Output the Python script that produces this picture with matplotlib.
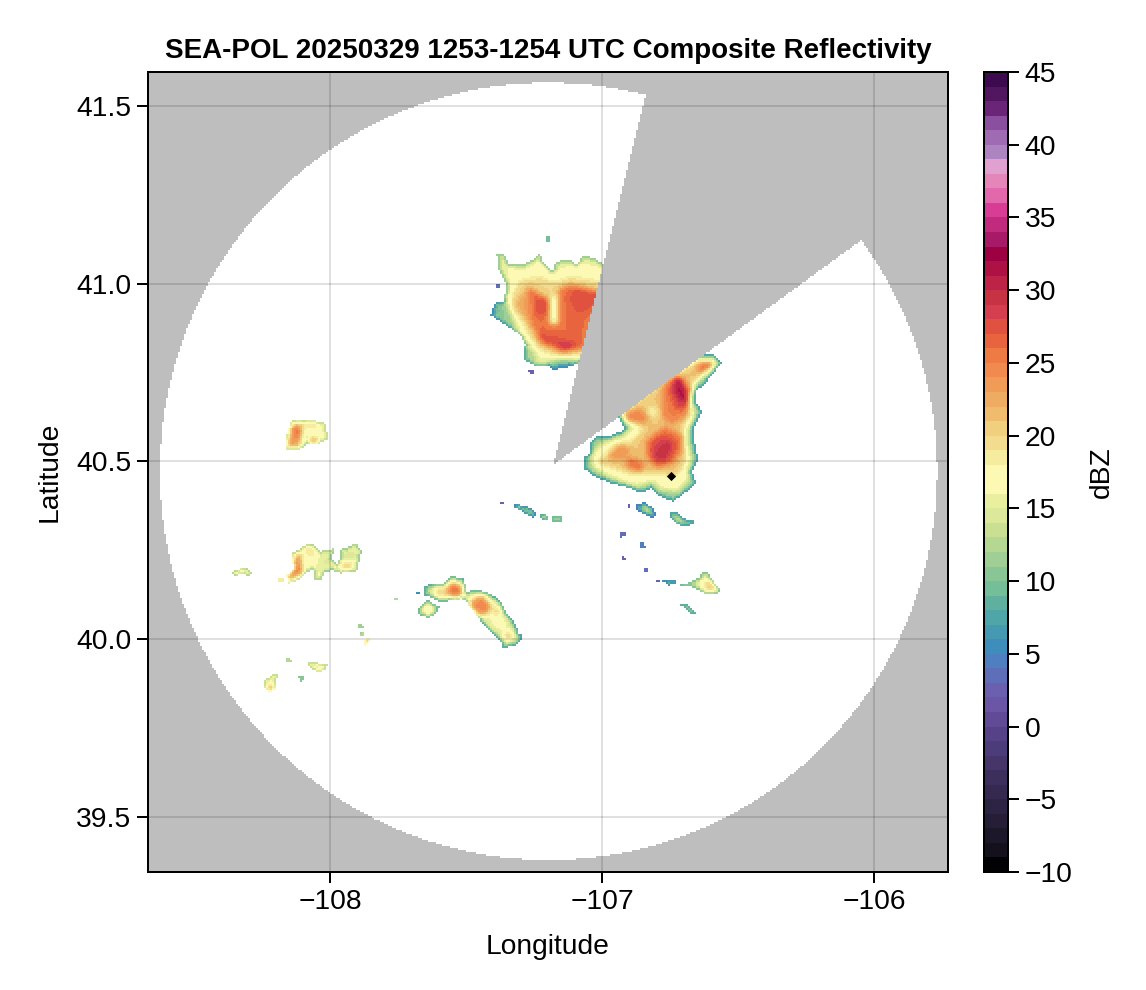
import numpy as np
import matplotlib
matplotlib.use('Agg')
from matplotlib import pyplot as plt
from matplotlib.colors import ListedColormap, Normalize
from matplotlib.cm import ScalarMappable
from matplotlib.path import Path

plt.rcParams['font.family'] = ['Liberation Sans', 'DejaVu Sans']

# dBZ colours, one per 1 dBZ bin from -10 up to 45
DBZ_COLORS = [
    '#020103', '#14111c', '#1c1829', '#251e36', '#2d2443', '#352950', '#3d2f5c',
    '#453568', '#4c3c79', '#554287', '#614b96', '#6b56a5', '#6b5fb0', '#5f6eb8', '#4f7fc0',
    '#3f8dbb', '#4599b1', '#4ea6a8', '#5fb09e', '#74be98', '#88c695', '#9fcf94', '#b4d892',
    '#c9e092', '#dce99a', '#e8f0a0', '#fdf8b4', '#fbf9b4', '#f6eca0', '#f3dc8e', '#f0d07f',
    '#efbb6c', '#eeac62', '#f09c56', '#f08a4e', '#ee7a44', '#e8643f', '#e0523f', '#d53e4f',
    '#c83344', '#bd2247', '#ae1245', '#9e0142', '#a81a68', '#c22a7e', '#d83c94', '#e268ab',
    '#e586bb', '#e0a0d0', '#ae84c0', '#9f6bb2', '#8a4f9e', '#6a2578', '#521660', '#3d0a4f',
]
CBAR_TICKS = list(range(-10, 46, 5))
LON_TICKS = [-108, -107, -106]
LAT_TICKS = [39.5, 40.0, 40.5, 41.0, 41.5]

# radar coverage
COVER_CENTER = (-107.197, 40.472)
COVER_RADII = (1.428, 1.094)
BLOCKED_SECTOR = [(-107.18, 40.49), (-106.805, 41.64), (-105.7, 41.64), (-105.7, 41.317)]
SITE = (-106.746, 40.459)

# echoes: (dBZ, outline in lon/lat), later ones paint over earlier ones
north_cell = [
    (15, [(-107.387,41.081),(-107.363,41.083),(-107.338,41.053),(-107.301,41.053),(-107.264,41.063),(-107.228,41.086),(-107.216,41.058),(-107.185,41.034),(-107.167,41.063),(-107.118,41.067),(-107.093,41.053),(-107.069,41.081),(-107.026,41.072),(-106.97,41.039),(-107.06,40.786),(-107.118,40.767),(-107.179,40.757),(-107.197,40.767),(-107.234,40.767),(-107.283,40.781),(-107.291,40.804),(-107.283,40.828),(-107.301,40.856),(-107.350,40.880),(-107.409,40.912),(-107.397,40.945),(-107.363,40.950),(-107.350,40.992),(-107.381,41.039)]),
    (11, [(-107.409,40.912),(-107.397,40.945),(-107.356,40.950),(-107.332,40.908),(-107.314,40.875),(-107.350,40.880)]),
    (6, [(-107.399,40.926),(-107.381,40.931),(-107.381,40.917),(-107.397,40.917)]),
    (12, [(-107.291,40.804),(-107.283,40.828),(-107.246,40.804),(-107.240,40.776),(-107.283,40.781)]),
    (9, [(-107.197,40.781),(-107.093,40.786),(-107.118,40.767),(-107.179,40.757),(-107.197,40.767)]),
    (17, [(-107.356,41.053),(-107.301,41.034),(-107.228,41.063),(-107.185,41.016),(-107.154,41.044),(-107.069,41.058),(-106.970,41.039),(-107.069,40.795),(-107.191,40.786),(-107.240,40.795),(-107.264,40.833),(-107.301,40.870),(-107.338,40.917),(-107.332,40.992)]),
    (20, [(-107.338,40.964),(-107.301,41.011),(-107.228,41.020),(-107.179,41.002),(-107.118,41.020),(-106.970,41.002),(-107.062,40.804),(-107.130,40.790),(-107.222,40.809),(-107.264,40.842),(-107.289,40.889),(-107.332,40.926)]),
    (23, [(-107.320,40.945),(-107.271,40.987),(-107.258,40.870),(-107.289,40.908)]),
    (26, [(-107.271,40.992),(-107.222,40.969),(-107.191,40.955),(-107.191,40.898),(-107.173,40.884),(-107.164,40.983),(-107.118,40.997),(-106.995,40.978),(-107.056,40.814),(-107.154,40.809),(-107.228,40.833),(-107.258,40.880),(-107.267,40.936)]),
    (16, [(-107.195,40.958),(-107.160,40.972),(-107.165,40.885),(-107.189,40.885)]),
    (28, [(-107.246,40.964),(-107.203,40.955),(-107.197,40.917),(-107.240,40.912)]),
    (28, [(-107.246,40.861),(-107.167,40.851),(-107.087,40.837),(-107.105,40.814),(-107.160,40.818),(-107.228,40.842)]),
    (28, [(-107.105,40.987),(-106.995,40.969),(-107.056,40.926),(-107.093,40.917),(-107.118,40.955)]),
    (30, [(-107.154,40.828),(-107.124,40.833),(-107.105,40.818),(-107.142,40.812)]),
]
north_bits = [
    (6, [(-107.271,40.757),(-107.246,40.760),(-107.252,40.748),(-107.267,40.748)]),
    (7, [(-107.387,40.997),(-107.375,40.997),(-107.375,40.989),(-107.387,40.989)]),
    (13, [(-107.206,41.135),(-107.191,41.135),(-107.191,41.119),(-107.206,41.119)]),
]
east_cell = [
    (11, [(-107.044,40.551),(-107.014,40.574),(-106.965,40.574),(-106.916,40.590),(-106.952,40.640),(-106.763,40.748),(-106.652,40.804),(-106.591,40.800),(-106.560,40.776),(-106.603,40.739),(-106.628,40.711),(-106.658,40.701),(-106.652,40.664),(-106.634,40.640),(-106.658,40.603),(-106.665,40.570),(-106.646,40.504),(-106.671,40.471),(-106.652,40.438),(-106.714,40.401),(-106.738,40.387),(-106.787,40.401),(-106.818,40.424),(-106.861,40.410),(-106.897,40.424),(-106.965,40.438),(-107.026,40.457),(-107.069,40.480),(-107.063,40.513),(-107.044,40.523)]),
    (17, [(-107.014,40.546),(-106.983,40.556),(-106.922,40.570),(-106.891,40.593),(-106.934,40.640),(-106.763,40.739),(-106.652,40.790),(-106.591,40.786),(-106.579,40.772),(-106.622,40.743),(-106.658,40.720),(-106.683,40.701),(-106.671,40.659),(-106.658,40.635),(-106.677,40.603),(-106.689,40.570),(-106.671,40.504),(-106.689,40.471),(-106.677,40.448),(-106.726,40.415),(-106.781,40.419),(-106.818,40.443),(-106.873,40.429),(-106.958,40.452),(-107.032,40.480),(-107.038,40.513)]),
    (21, [(-106.989,40.518),(-106.940,40.551),(-106.891,40.556),(-106.848,40.593),(-106.928,40.635),(-106.763,40.729),(-106.652,40.781),(-106.597,40.781),(-106.585,40.774),(-106.628,40.748),(-106.671,40.715),(-106.689,40.701),(-106.683,40.659),(-106.671,40.631),(-106.701,40.598),(-106.701,40.560),(-106.689,40.513),(-106.707,40.476),(-106.738,40.457),(-106.799,40.466),(-106.836,40.466),(-106.897,40.466),(-106.952,40.480),(-107.020,40.495)]),
    (18, [(-106.830,40.659),(-106.787,40.645),(-106.805,40.621),(-106.836,40.631)]),
    (25, [(-106.775,40.720),(-106.732,40.743),(-106.664,40.706),(-106.683,40.668),(-106.689,40.631),(-106.738,40.603),(-106.775,40.617),(-106.781,40.649),(-106.781,40.682)]),
    (26, [(-106.646,40.776),(-106.591,40.784),(-106.597,40.767),(-106.628,40.753),(-106.652,40.753)]),
    (28, [(-106.628,40.772),(-106.597,40.778),(-106.609,40.762)]),
    (25, [(-106.922,40.631),(-106.861,40.649),(-106.824,40.621),(-106.854,40.607),(-106.910,40.612)]),
    (26, [(-106.836,40.560),(-106.769,40.598),(-106.701,40.570),(-106.707,40.532),(-106.738,40.495),(-106.799,40.480),(-106.836,40.513)]),
    (26, [(-106.916,40.513),(-106.879,40.509),(-106.836,40.490),(-106.861,40.471),(-106.910,40.485)]),
    (24, [(-106.952,40.542),(-106.910,40.542),(-106.897,40.523),(-106.934,40.504),(-106.983,40.509)]),
    (28, [(-106.744,40.734),(-106.701,40.734),(-106.674,40.673),(-106.695,40.640),(-106.732,40.649),(-106.756,40.692)]),
    (32, [(-106.732,40.729),(-106.714,40.737),(-106.701,40.701),(-106.683,40.673),(-106.707,40.664),(-106.726,40.692)]),
    (28, [(-106.818,40.560),(-106.769,40.574),(-106.726,40.551),(-106.744,40.504),(-106.805,40.493),(-106.824,40.523)]),
    (30, [(-106.781,40.551),(-106.744,40.556),(-106.762,40.513),(-106.793,40.499),(-106.805,40.523)]),
]
northwest_cell = [
    (17, [(-108.165,40.532),(-108.159,40.575),(-108.141,40.615),(-108.079,40.619),(-108.018,40.607),(-108.006,40.565),(-108.037,40.551),(-108.085,40.546),(-108.122,40.530)]),
    (23, [(-108.147,40.598),(-108.104,40.607),(-108.100,40.560),(-108.116,40.542),(-108.159,40.546),(-108.147,40.570)]),
    (27, [(-108.135,40.603),(-108.110,40.593),(-108.110,40.570),(-108.128,40.565)]),
    (25, [(-108.153,40.559),(-108.125,40.560),(-108.128,40.544),(-108.153,40.544)]),
    (26, [(-108.073,40.565),(-108.049,40.565),(-108.055,40.551),(-108.076,40.551)]),
    (13, [(-108.095,40.579),(-108.079,40.579),(-108.079,40.551),(-108.092,40.551)]),
    (19, [(-108.098,40.612),(-108.037,40.607),(-108.037,40.593),(-108.092,40.593)]),
]
west_cell = [
    (16, [(-108.141,40.241),(-108.110,40.255),(-108.073,40.272),(-108.037,40.246),(-107.981,40.255),(-107.994,40.227),(-107.969,40.208),(-107.963,40.251),(-107.902,40.269),(-107.883,40.246),(-107.902,40.190),(-107.963,40.185),(-107.994,40.194),(-108.024,40.185),(-108.030,40.166),(-108.055,40.166),(-108.061,40.194),(-108.092,40.185),(-108.110,40.166),(-108.153,40.157),(-108.161,40.180),(-108.128,40.194),(-108.141,40.222)]),
    (24, [(-108.132,40.232),(-108.104,40.239),(-108.104,40.185),(-108.153,40.161),(-108.159,40.177),(-108.134,40.194)]),
    (27, [(-108.128,40.204),(-108.110,40.204),(-108.104,40.185),(-108.128,40.180)]),
    (20, [(-108.098,40.260),(-108.061,40.255),(-108.055,40.232),(-108.079,40.227)]),
    (21, [(-107.963,40.208),(-107.920,40.222),(-107.920,40.199),(-107.951,40.194)]),
    (11, [(-108.024,40.222),(-108.000,40.222),(-108.006,40.211),(-108.022,40.213)]),
    (12, [(-107.951,40.237),(-107.896,40.241),(-107.914,40.227),(-107.945,40.227)]),
    (16, [(-108.361,40.190),(-108.312,40.202),(-108.288,40.185),(-108.300,40.174),(-108.318,40.183),(-108.355,40.178)]),
    (21, [(-108.337,40.194),(-108.316,40.194),(-108.318,40.183),(-108.337,40.183)]),
    (23, [(-108.193,40.171),(-108.171,40.174),(-108.171,40.161),(-108.186,40.159)]),
]
south_chain = [
    (13, [(-107.681,40.082),(-107.644,40.110),(-107.596,40.091),(-107.608,40.072),(-107.638,40.061),(-107.669,40.065)]),
    (20, [(-107.657,40.096),(-107.620,40.091),(-107.626,40.072),(-107.651,40.072)]),
    (12, [(-107.657,40.143),(-107.632,40.157),(-107.583,40.157),(-107.559,40.177),(-107.510,40.171),(-107.498,40.133),(-107.461,40.138),(-107.424,40.133),(-107.375,40.110),(-107.351,40.072),(-107.326,40.053),(-107.295,39.997),(-107.320,39.983),(-107.363,39.974),(-107.375,39.997),(-107.412,40.021),(-107.449,40.053),(-107.491,40.096),(-107.504,40.114),(-107.547,40.110),(-107.589,40.102),(-107.620,40.114),(-107.657,40.124)]),
    (16, [(-107.638,40.133),(-107.620,40.147),(-107.583,40.147),(-107.553,40.168),(-107.516,40.161),(-107.504,40.129),(-107.461,40.129),(-107.430,40.124),(-107.387,40.100),(-107.363,40.068),(-107.338,40.044),(-107.314,40.002),(-107.351,39.983),(-107.369,40.006),(-107.412,40.035),(-107.442,40.063),(-107.485,40.105),(-107.547,40.119),(-107.596,40.114),(-107.632,40.124)]),
    (21, [(-107.620,40.143),(-107.583,40.143),(-107.571,40.119),(-107.608,40.119)]),
    (24, [(-107.577,40.147),(-107.547,40.159),(-107.516,40.152),(-107.510,40.129),(-107.540,40.114),(-107.571,40.124)]),
    (27, [(-107.553,40.147),(-107.516,40.143),(-107.522,40.124),(-107.547,40.124)]),
    (24, [(-107.479,40.114),(-107.436,40.124),(-107.406,40.096),(-107.412,40.072),(-107.449,40.063),(-107.485,40.091)]),
    (26, [(-107.449,40.110),(-107.424,40.100),(-107.424,40.082),(-107.442,40.082)]),
    (21, [(-107.400,40.091),(-107.375,40.091),(-107.375,40.063),(-107.400,40.063)]),
    (21, [(-107.381,40.058),(-107.363,40.053),(-107.369,40.039),(-107.387,40.044)]),
    (21, [(-107.363,40.021),(-107.326,40.016),(-107.326,40.002),(-107.357,39.997)]),
]
small_west = [
    (16, [(-107.761,40.114),(-107.751,40.112),(-107.755,40.105),(-107.765,40.108)]),
    (9, [(-107.681,40.133),(-107.669,40.133),(-107.669,40.127),(-107.681,40.127)]),
    (15, [(-107.899,40.044),(-107.871,40.035),(-107.877,40.028),(-107.899,40.035)]),
    (16, [(-107.892,40.021),(-107.875,40.021),(-107.877,40.009),(-107.889,40.011)]),
    (21, [(-107.880,39.992),(-107.853,40.006),(-107.849,39.997),(-107.871,39.980)]),
    (10, [(-107.304,40.016),(-107.292,40.016),(-107.292,40.005),(-107.304,40.005)]),
    (16, [(-108.165,39.945),(-108.147,39.950),(-108.141,39.936),(-108.159,39.933)]),
    (17, [(-108.079,39.936),(-108.061,39.936),(-108.037,39.931),(-108.010,39.929),(-108.018,39.911),(-108.049,39.908),(-108.079,39.922)]),
    (20, [(-108.055,39.927),(-108.018,39.924),(-108.030,39.913),(-108.049,39.914)]),
    (14, [(-108.116,39.894),(-108.098,39.897),(-108.092,39.886),(-108.110,39.880)]),
    (17, [(-108.245,39.880),(-108.208,39.903),(-108.186,39.898),(-108.202,39.880),(-108.202,39.856),(-108.226,39.852),(-108.245,39.866)]),
    (24, [(-108.230,39.868),(-108.208,39.870),(-108.202,39.856),(-108.223,39.852)]),
]
small_east = [
    (9, [(-107.326,40.382),(-107.290,40.375),(-107.259,40.368),(-107.243,40.354),(-107.253,40.340),(-107.283,40.354),(-107.326,40.373)]),
    (15, [(-107.308,40.375),(-107.290,40.371),(-107.292,40.364),(-107.308,40.366)]),
    (16, [(-107.277,40.362),(-107.255,40.359),(-107.259,40.350),(-107.275,40.352)]),
    (1, [(-107.375,40.386),(-107.361,40.386),(-107.361,40.381),(-107.375,40.381)]),
    (13, [(-107.228,40.350),(-107.216,40.354),(-107.198,40.347),(-107.198,40.337),(-107.222,40.337)]),
    (13, [(-107.188,40.343),(-107.151,40.347),(-107.151,40.331),(-107.185,40.331)]),
    (8, [(-106.879,40.378),(-106.842,40.385),(-106.812,40.368),(-106.799,40.350),(-106.812,40.340),(-106.842,40.350),(-106.873,40.362)]),
    (17, [(-106.855,40.378),(-106.826,40.368),(-106.818,40.352),(-106.842,40.359)]),
    (2, [(-106.907,40.379),(-106.895,40.379),(-106.895,40.369),(-106.907,40.369)]),
    (11, [(-106.754,40.354),(-106.732,40.359),(-106.701,40.340),(-106.659,40.331),(-106.677,40.319),(-106.701,40.315),(-106.744,40.335)]),
    (14, [(-106.738,40.345),(-106.708,40.335),(-106.708,40.321),(-106.732,40.328)]),
    (7, [(-106.934,40.303),(-106.910,40.303),(-106.910,40.289),(-106.932,40.286)]),
    (9, [(-106.863,40.272),(-106.851,40.272),(-106.839,40.256),(-106.858,40.256)]),
    (4, [(-106.928,40.227),(-106.920,40.234),(-106.910,40.220),(-106.922,40.221)]),
    (8, [(-106.846,40.199),(-106.834,40.197),(-106.834,40.190),(-106.842,40.190)]),
    (6, [(-106.802,40.166),(-106.791,40.166),(-106.791,40.159),(-106.802,40.159)]),
    (10, [(-106.784,40.168),(-106.728,40.166),(-106.726,40.157),(-106.757,40.150)]),
    (14, [(-106.714,40.152),(-106.683,40.157),(-106.640,40.176),(-106.634,40.192),(-106.610,40.185),(-106.591,40.162),(-106.567,40.138),(-106.573,40.124),(-106.610,40.124),(-106.640,40.134),(-106.677,40.148)]),
    (19, [(-106.646,40.157),(-106.616,40.174),(-106.579,40.143),(-106.597,40.131),(-106.628,40.138)]),
    (22, [(-106.618,40.159),(-106.591,40.152),(-106.589,40.138),(-106.610,40.140)]),
    (12, [(-106.711,40.096),(-106.689,40.099),(-106.656,40.074),(-106.671,40.068)]),
]
ECHOES = north_cell + north_bits + east_cell + northwest_cell + west_cell + south_chain + small_west + small_east

XLIM = (-108.669, -105.728)
YLIM = (39.344, 41.596)


def smooth(a):
    kernel = np.array([1, 2, 1]) / 4
    a = np.apply_along_axis(lambda r: np.convolve(r, kernel, mode='same'), 0, a)
    return np.apply_along_axis(lambda r: np.convolve(r, kernel, mode='same'), 1, a)


def erode(m):
    out = m.copy()
    for axis in (0, 1):
        for step in (-1, 1):
            out &= np.roll(m, step, axis=axis)
    return out


# grid about 2 px a cell
lon_edges = np.arange(XLIM[0], XLIM[1] + 0.0074, 0.00735)
lat_edges = np.arange(YLIM[0], YLIM[1] + 0.0057, 0.00563)
lon_c = 0.5 * (lon_edges[:-1] + lon_edges[1:])
lat_c = 0.5 * (lat_edges[:-1] + lat_edges[1:])
LON, LAT = np.meshgrid(lon_c, lat_c)
pts = np.column_stack([LON.ravel(), LAT.ravel()])

in_circle = ((LON - COVER_CENTER[0]) / COVER_RADII[0]) ** 2 + ((LAT - COVER_CENTER[1]) / COVER_RADII[1]) ** 2 <= 1
blocked = Path(BLOCKED_SECTOR).contains_points(pts).reshape(LON.shape)
coverage = in_circle & ~blocked

field = np.zeros(LON.shape)
has_echo = np.zeros(LON.shape, dtype=bool)
for dbz, outline in ECHOES:
    inside = Path(outline).contains_points(pts).reshape(LON.shape)
    field[inside] = dbz
    has_echo |= inside

# soften the steps between contour levels, inside the echoes only
weight = has_echo.astype(float)
values = field * weight
for N in range(4):
    values = smooth(values)
    weight = smooth(weight)
field = np.where(has_echo, values / np.maximum(weight, 1e-6), 0)

# thin weak rim round each echo
ring1 = has_echo & ~erode(has_echo)
ring2 = erode(has_echo) & ~erode(erode(has_echo))
field[ring1] = np.maximum(field[ring1] - 4, 2)
field[ring2] = np.maximum(field[ring2] - 1.5, 3)

echo_masked = np.ma.masked_where(~(has_echo & coverage), field)
cover_masked = np.ma.masked_where(~coverage, np.ones(LON.shape))

cmap = ListedColormap(DBZ_COLORS)
norm = Normalize(vmin=-10, vmax=45)

W, H = 1146, 990
FS = 20.3
fig = plt.figure(figsize=(W / 100, H / 100), dpi=100, facecolor='white')
ax = fig.add_axes([148 / W, 1 - 872 / H, 800 / W, 800 / H])
ax.set_facecolor('#bebebe')
ax.pcolormesh(lon_edges, lat_edges, cover_masked, cmap=ListedColormap(['white']), vmin=0, vmax=2, zorder=1)
ax.pcolormesh(lon_edges, lat_edges, echo_masked, cmap=cmap, norm=norm, zorder=2)
ax.scatter([SITE[0]], [SITE[1]], marker='D', s=22, color='black', linewidths=0, zorder=4)

ax.set_xlim(XLIM)
ax.set_ylim(YLIM)
ax.set_xticks(LON_TICKS)
ax.set_yticks(LAT_TICKS)
ax.set_yticklabels(['{:.1f}'.format(v) for v in LAT_TICKS])
ax.grid(True, color='black', alpha=0.12, linewidth=1.44, zorder=3)
ax.set_axisbelow(False)
ax.tick_params(length=8, width=1.44, labelsize=FS, pad=4)
for spine in ax.spines.values():
    spine.set_linewidth(1.44)
ax.set_xlabel('Longitude', fontsize=FS, labelpad=14)
ax.set_ylabel('Latitude', fontsize=FS, labelpad=10)
ax.set_title('SEA-POL 20250329 1253-1254 UTC Composite Reflectivity', fontsize=20, fontweight='bold', pad=10)

cax = fig.add_axes([984 / W, 1 - 872 / H, 24 / W, 800 / H])
cb = fig.colorbar(ScalarMappable(norm=norm, cmap=cmap), cax=cax)
cb.set_ticks(CBAR_TICKS)
cb.ax.tick_params(length=8, width=1.44, labelsize=FS, pad=4)
cb.outline.set_linewidth(1.44)
cb.set_label('dBZ', fontsize=FS, labelpad=12)

fig.savefig('out.png', dpi=100)
